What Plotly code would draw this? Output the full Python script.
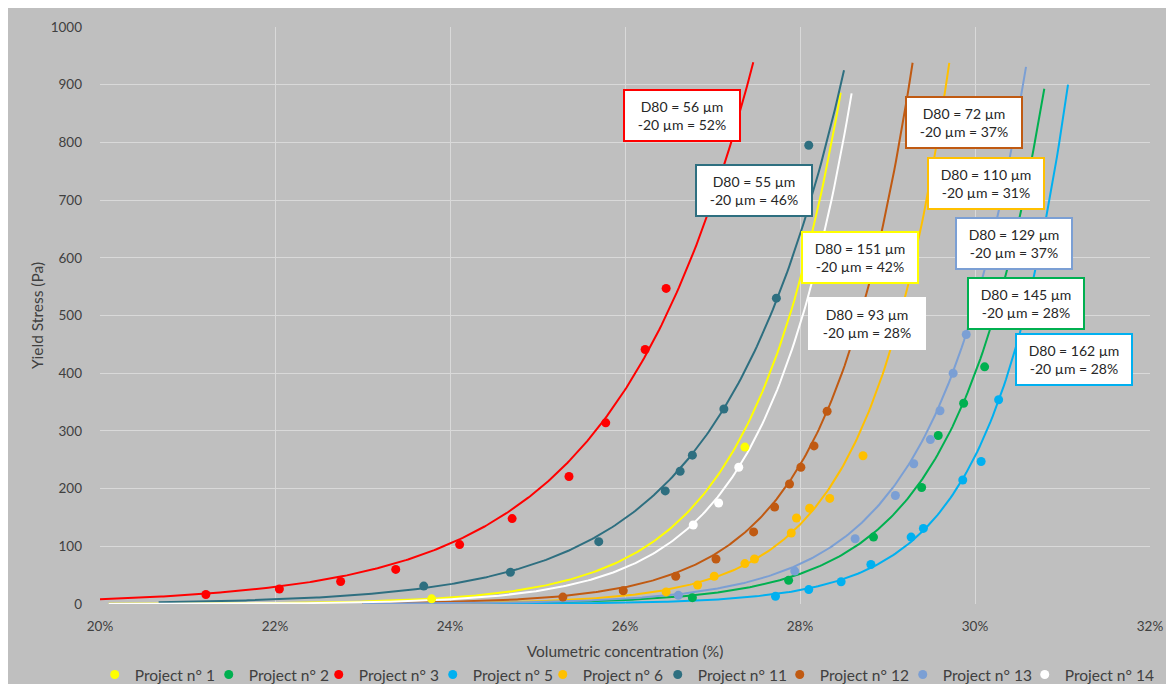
import numpy as np
import plotly.graph_objects as go

# ---------------- data ----------------
series_names = ["Project n° 1", "Project n° 2", "Project n° 3", "Project n° 5", "Project n° 6",
                "Project n° 11", "Project n° 12", "Project n° 13", "Project n° 14"]
series_colors = ["#ffff00", "#00b050", "#ff0000", "#00b0f0", "#ffc000",
                 "#2e6f80", "#c05a12", "#7b9fd4", "#ffffff"]

p1_x = [23.79, 27.37]
p1_y = [9, 272]

p2_x = [26.77, 27.87, 28.84, 29.39, 29.58, 29.87, 30.11]
p2_y = [11, 41, 116, 202, 292, 348, 411]

p3_x = [21.21, 22.05, 22.75, 23.38, 24.11, 24.71, 25.36, 25.78, 26.23, 26.47]
p3_y = [16.5, 26, 39, 60, 103, 148, 221, 314, 441, 547]

p5_x = [27.72, 28.10, 28.47, 28.81, 29.27, 29.41, 29.86, 30.07, 30.27]
p5_y = [13.5, 25, 38.5, 68.5, 116, 131, 215, 247, 354]

p6_x = [26.47, 26.83, 27.02, 27.37, 27.48, 27.90, 27.96, 28.11, 28.34, 28.72]
p6_y = [21, 33, 48, 70, 78, 123, 149, 166, 183, 257]

p11_x = [23.70, 24.69, 25.70, 26.46, 26.63, 26.77, 27.13, 27.73, 28.10]
p11_y = [31, 55, 108, 196, 230, 258, 338, 530, 795]

p12_x = [25.29, 25.98, 26.58, 27.04, 27.47, 27.71, 27.88, 28.01, 28.16, 28.31]
p12_y = [12, 23, 48, 78, 125, 168, 208, 237, 274, 334]

p13_x = [26.61, 27.94, 28.63, 29.09, 29.30, 29.49, 29.60, 29.75, 29.90]
p13_y = [15, 57, 113, 188, 243, 285, 335, 400, 467]

p14_x = [26.78, 27.07, 27.30]
p14_y = [137, 175, 237]

# exponential trendlines: x extent plus two points read on each drawn curve
trend_x_start = [20.1, 23.5, 20.0, 23.5, 23.0, 20.67, 23.0, 23.0, 20.1]
trend_x_mid = [26.55, 29.865, 24.71, 30.274, 27.90, 27.127, 28.309, 29.897, 27.30]
trend_y_mid = [135, 348, 164, 354, 123, 338, 334, 467, 237]
trend_x_end = [28.465, 30.792, 27.466, 31.063, 29.706, 28.503, 29.287, 30.583, 28.59]
trend_y_end = [886, 893, 939, 900, 938, 925, 938, 931, 885]

# label boxes (D80 and -20 µm fraction), one per series
box_series = [2, 5, 0, 8, 6, 4, 7, 1, 3]
box_d80 = [56, 55, 151, 93, 72, 110, 129, 145, 162]
box_fines = [52, 46, 42, 28, 37, 31, 37, 28, 28]

x_ticks = [20, 22, 24, 26, 28, 30, 32]
y_ticks = [0, 100, 200, 300, 400, 500, 600, 700, 800, 900, 1000]

# ---------------- figure ----------------
xs = [p1_x, p2_x, p3_x, p5_x, p6_x, p11_x, p12_x, p13_x, p14_x]
ys = [p1_y, p2_y, p3_y, p5_y, p6_y, p11_y, p12_y, p13_y, p14_y]

FONT = "Lato"
legend_entry_px = [69, 65, 69, 65, 70, 77, 78, 77, 100]
fig = go.Figure()

for i in range(len(series_names)):
    tx = np.linspace(trend_x_start[i], trend_x_end[i], 300)
    frac = (tx - trend_x_mid[i]) / (trend_x_end[i] - trend_x_mid[i])
    ty = trend_y_mid[i] * (trend_y_end[i] / trend_y_mid[i]) ** frac
    fig.add_trace(go.Scatter(x=tx, y=ty, mode="lines",
                             line=dict(color=series_colors[i], width=2),
                             showlegend=False, hoverinfo="skip"))

for i in range(len(series_names)):
    fig.add_trace(go.Scatter(x=xs[i], y=ys[i], mode="markers", name=series_names[i],
                             legendwidth=legend_entry_px[i],
                             marker=dict(color=series_colors[i], size=9, line=dict(width=0))))

annotations = []
box_pos = [(26.657, 847), (27.477, 716), (28.689, 601), (28.766, 487), (29.869, 834),
           (30.129, 728), (30.449, 625), (30.586, 520), (31.126, 424)]
for k in range(len(box_d80)):
    c = series_colors[box_series[k]]
    annotations.append(dict(
        x=box_pos[k][0], y=box_pos[k][1], xref="x", yref="y", showarrow=False,
        text=f"D80 = {box_d80[k]} µm<br>-20 µm = {box_fines[k]}%",
        font=dict(family=FONT, size=14, color="#262626"),
        bgcolor="#ffffff", bordercolor=c, borderwidth=2, borderpad=0,
        width=114, height=49, align="center", xanchor="center", yanchor="middle"))

# the page body adds an 8 px offset; the figure is sized to fill the rest of the window
fig.update_layout(
    width=1166, height=676,
    margin=dict(l=92, r=24, t=19, b=80, autoexpand=False),
    paper_bgcolor="#bfbfbf", plot_bgcolor="#bfbfbf",
    font=dict(family=FONT, size=13.5, color="#404040"),
    annotations=annotations,
    xaxis=dict(range=[20, 32], tickvals=x_ticks, ticktext=[f"{v}%" for v in x_ticks],
               showgrid=True, gridcolor="#d9d9d9", gridwidth=1, zeroline=False,
               showline=False, ticks="", ticklabelstandoff=12, automargin=False,
               title=dict(text="Volumetric concentration (%)", standoff=13,
                          font=dict(size=15.5, color="#404040"))),
    yaxis=dict(range=[0, 1000], tickvals=y_ticks,
               showgrid=True, gridcolor="#d9d9d9", gridwidth=1, zeroline=False,
               showline=False, ticks="", ticklabelstandoff=17, automargin=False,
               title=dict(text="Yield Stress (Pa)", standoff=3,
                          font=dict(size=15.5, color="#404040"))),
    legend=dict(orientation="h", x=-0.005, xanchor="left", y=-0.123, yanchor="middle",
                bgcolor="rgba(0,0,0,0)", font=dict(size=15.5, color="#404040"),
                itemwidth=30, tracegroupgap=0),
)

fig.write_html("out.html")
